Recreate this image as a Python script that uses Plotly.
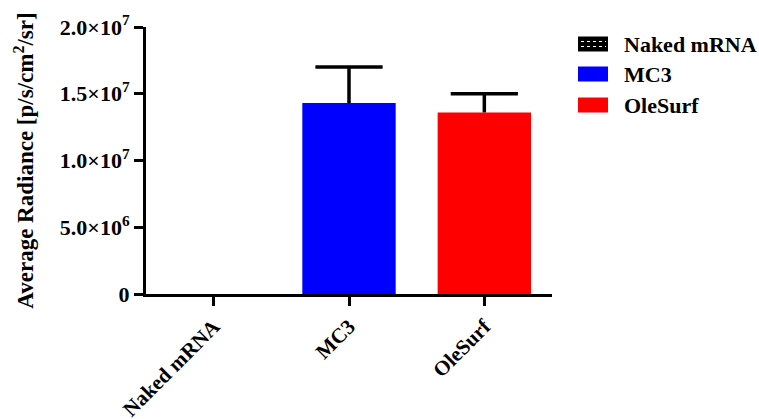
import plotly.graph_objects as go

# Group means and upper SEM of the average radiance
groups = ["Naked mRNA", "MC3", "OleSurf"]
radiance = [0.0, 1.43e7, 1.36e7]
radiance_err = [0.0, 2.7e6, 1.4e6]
colors = ["#000000", "#0000ff", "#ff0000"]

y_tickvals = [0, 5e6, 1e7, 1.5e7, 2e7]
y_ticktext = ["0", "5.0×10<sup>6</sup>", "1.0×10<sup>7</sup>",
              "1.5×10<sup>7</sup>", "2.0×10<sup>7</sup>"]

W, H = 759, 419
L, R, T, B = 146, 207, 27, 125
FONT = "Liberation Serif"

fig = go.Figure()
for i, g in enumerate(groups):
    marker = dict(color=colors[i], line=dict(width=0))
    if i == 0:
        marker["pattern"] = dict(shape=".", fgcolor="white", bgcolor="black", size=6)
    fig.add_trace(go.Bar(x=[g], y=[radiance[i]], width=0.69, marker=marker,
                         showlegend=False))

# Upper-only error bars: stem from the bar top plus a horizontal cap
for i, g in enumerate(groups):
    if radiance_err[i] <= 0:
        continue
    top = radiance[i] + radiance_err[i]
    fig.add_trace(go.Scatter(
        x=[g, g], y=[radiance[i], top], mode="lines",
        line=dict(color="black", width=3.5), showlegend=False, hoverinfo="skip"))
    fig.add_trace(go.Scatter(
        x=[g], y=[top], mode="markers", showlegend=False, hoverinfo="skip",
        marker=dict(symbol="line-ew-open", size=48, color="black",
                    line=dict(color="black", width=3.5))))

# Legend panel drawn as swatches + labels to the right of the plot
plot_w, plot_h = W - L - R, H - T - B
def px(x):
    return (x - L) / plot_w
def py(y):
    return (H - B - y) / plot_h

shapes, annotations = [], []
row_y = [44, 74, 105]
for i, g in enumerate(groups):
    yc = row_y[i]
    shapes.append(dict(type="rect", xref="paper", yref="paper",
                       x0=px(578), x1=px(608), y0=py(yc + 7.5), y1=py(yc - 7.5),
                       fillcolor=colors[i], line=dict(width=0)))
    if i == 0:
        for dy in (-2.5, 2.5):
            shapes.append(dict(type="line", xref="paper", yref="paper",
                               x0=px(581), x1=px(606), y0=py(yc + dy), y1=py(yc + dy),
                               line=dict(color="white", width=1.2, dash="dot")))
    annotations.append(dict(x=px(622), y=py(yc), xref="paper", yref="paper",
                            text=f"<b>{g}</b>", showarrow=False, xanchor="left",
                            yanchor="middle", font=dict(family=FONT, size=22, color="black")))

fig.update_layout(
    width=W, height=H, margin=dict(l=L, r=R, t=T, b=B, pad=0),
    paper_bgcolor="white", plot_bgcolor="white",
    font=dict(family=FONT, size=22, color="black"),
    shapes=shapes, annotations=annotations,
)
fig.update_xaxes(
    range=[-0.5, 2.5], showline=True, linecolor="black", linewidth=3,
    ticks="outside", ticklen=9, tickwidth=3, tickcolor="black",
    tickangle=-45, showgrid=False, zeroline=False, automargin=False,
    tickfont=dict(family=FONT, size=21, color="black"),
    tickvals=groups, ticktext=[f"<b>{g}</b>" for g in groups],
)
fig.update_yaxes(
    range=[0, 2e7], showline=True, linecolor="black", linewidth=3,
    ticks="outside", ticklen=9, tickwidth=3, tickcolor="black",
    showgrid=False, zeroline=False, automargin=False,
    tickvals=y_tickvals, ticktext=[f"<b>{t}</b>" for t in y_ticktext],
    tickfont=dict(family=FONT, size=22, color="black"),
    title=dict(text="<b>Average Radiance [p/s/cm<sup>2</sup>/sr]</b>",
               font=dict(family=FONT, size=23, color="black"), standoff=20),
)

fig.write_html("out.html")
